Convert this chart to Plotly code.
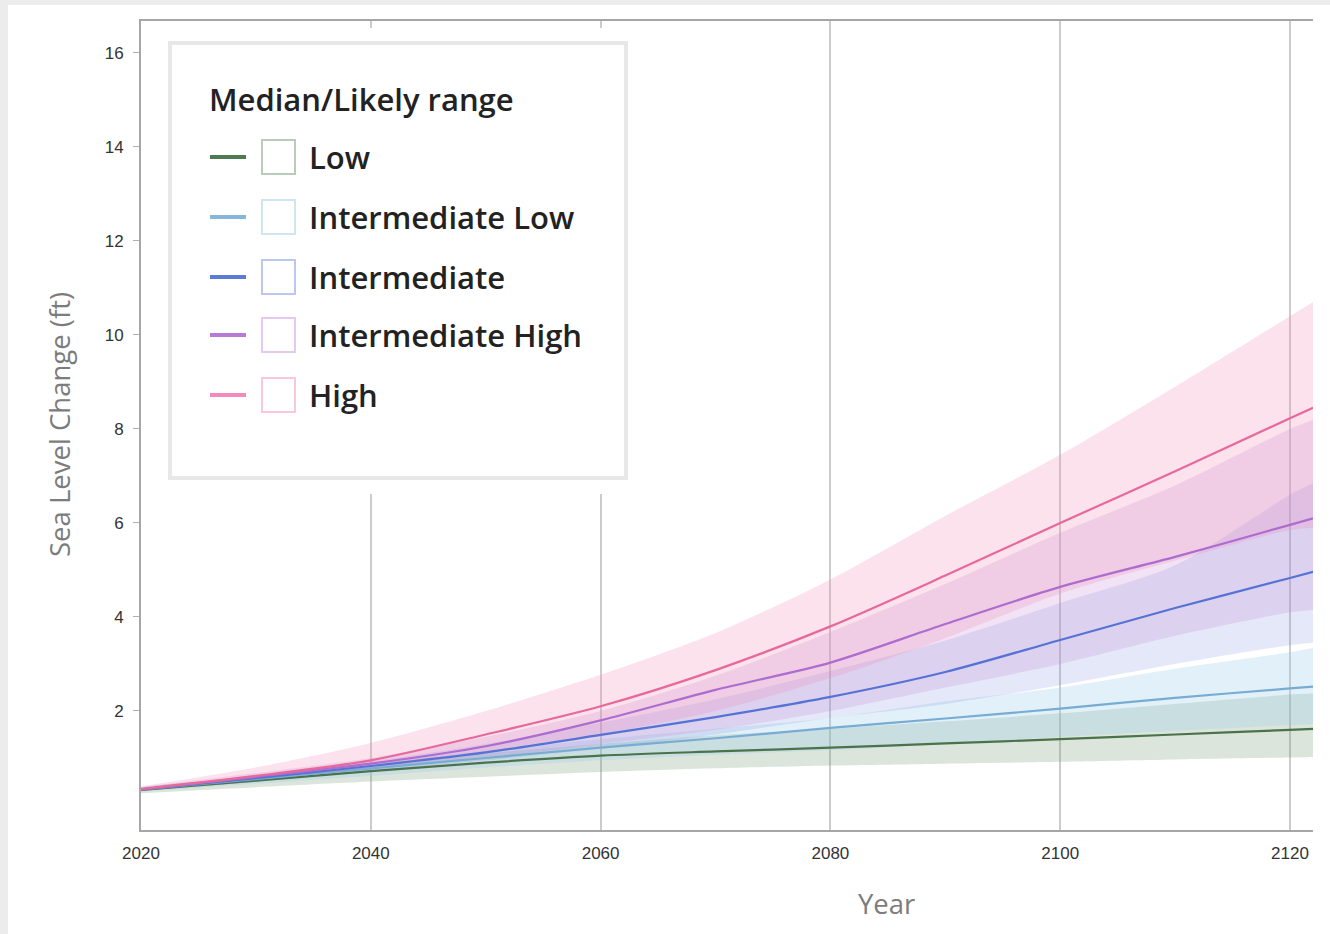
import plotly.graph_objects as go

# ---------------- data ----------------
years = [2020, 2030, 2040, 2050, 2060, 2070, 2080, 2090, 2100, 2110, 2120, 2122]

scenarios = ["Low", "Intermediate Low", "Intermediate", "Intermediate High", "High"]

low_med = [0.32, 0.52, 0.72, 0.90, 1.05, 1.14, 1.22, 1.31, 1.40, 1.50, 1.60, 1.62]
low_lo = [0.25, 0.38, 0.50, 0.60, 0.70, 0.78, 0.84, 0.88, 0.92, 0.97, 1.01, 1.02]
low_hi = [0.38, 0.62, 0.88, 1.10, 1.30, 1.48, 1.62, 1.78, 1.95, 2.15, 2.35, 2.38]

il_med = [0.33, 0.55, 0.78, 1.00, 1.22, 1.42, 1.64, 1.84, 2.05, 2.28, 2.48, 2.52]
il_lo = [0.28, 0.45, 0.62, 0.80, 0.95, 1.07, 1.17, 1.30, 1.45, 1.58, 1.70, 1.72]
il_hi = [0.38, 0.62, 0.90, 1.15, 1.40, 1.62, 1.85, 2.20, 2.50, 2.90, 3.25, 3.34]

int_med = [0.33, 0.57, 0.83, 1.12, 1.49, 1.87, 2.30, 2.83, 3.51, 4.19, 4.83, 4.96]
int_lo = [0.30, 0.50, 0.72, 0.95, 1.20, 1.50, 1.85, 2.15, 2.55, 3.00, 3.40, 3.45]
int_hi = [0.36, 0.63, 0.93, 1.30, 1.75, 2.25, 2.85, 3.50, 4.30, 5.10, 6.60, 6.85]

ih_med = [0.33, 0.60, 0.88, 1.25, 1.80, 2.45, 3.03, 3.85, 4.64, 5.28, 5.96, 6.10]
ih_lo = [0.30, 0.50, 0.75, 1.00, 1.30, 1.60, 2.00, 2.50, 3.00, 3.60, 4.10, 4.15]
ih_hi = [0.38, 0.68, 1.00, 1.45, 2.00, 2.75, 3.68, 4.70, 5.79, 6.80, 8.00, 8.19]

hi_med = [0.34, 0.62, 0.95, 1.50, 2.10, 2.87, 3.80, 4.88, 6.00, 7.10, 8.23, 8.45]
hi_lo = [0.30, 0.50, 0.78, 1.10, 1.50, 2.00, 2.70, 3.55, 4.50, 5.20, 5.85, 5.90]
hi_hi = [0.40, 0.80, 1.32, 2.00, 2.77, 3.66, 4.80, 6.15, 7.45, 8.90, 10.40, 10.70]

medians = [low_med, il_med, int_med, ih_med, hi_med]
lowers = [low_lo, il_lo, int_lo, ih_lo, hi_lo]
uppers = [low_hi, il_hi, int_hi, ih_hi, hi_hi]

y_ticks = [2, 4, 6, 8, 10, 12, 14, 16]
x_ticks = [2020, 2040, 2060, 2080, 2100, 2120]

# ---------------- styles ----------------
line_colors = ["#4a734c", "#78acd2", "#5573d4", "#ad6ccf", "#e8689c"]
legend_line_colors = ["#4f7a51", "#86b7db", "#5b7bd6", "#b57bd6", "#f38ab9"]
box_colors = ["#b9cbb9", "#d0e4f1", "#bcc7ef", "#e6c9f0", "#fac7dd"]
band_fills = [
    "rgba(110,150,110,0.25)",
    "rgba(160,205,235,0.30)",
    "rgba(120,140,220,0.20)",
    "rgba(200,140,215,0.25)",
    "rgba(240,140,185,0.25)",
]

L, R, T, B = 141, 1313, 21, 830


def px(x):
    return (x - L) / (R - L)


def py(y):
    return (B - y) / (B - T)


fig = go.Figure()

for i, name in enumerate(scenarios):
    fig.add_trace(go.Scatter(x=years, y=lowers[i], mode="lines",
                             line=dict(width=0, color=band_fills[i], shape="spline", smoothing=0.8),
                             showlegend=False, hoverinfo="skip"))
    fig.add_trace(go.Scatter(x=years, y=uppers[i], mode="lines",
                             line=dict(width=0, color=band_fills[i], shape="spline", smoothing=0.8),
                             fill="tonexty", fillcolor=band_fills[i],
                             showlegend=False, name=name + " likely range"))

for i, name in enumerate(scenarios):
    fig.add_trace(go.Scatter(x=years, y=medians[i], mode="lines",
                             line=dict(width=2.2, color=line_colors[i], shape="spline", smoothing=0.8),
                             showlegend=False, name=name))

shapes = []
# white card over grey page background
shapes.append(dict(type="rect", xref="paper", yref="paper", layer="below",
                   x0=px(8), x1=px(1345), y0=py(950), y1=py(5),
                   fillcolor="white", line=dict(width=0)))
# white area behind the legend (hides gridlines)
shapes.append(dict(type="rect", xref="paper", yref="paper", layer="above",
                   x0=px(150), x1=px(640), y0=py(494), y1=py(28),
                   fillcolor="white", line=dict(width=0)))
# legend box
shapes.append(dict(type="rect", xref="paper", yref="paper", layer="above",
                   x0=px(170), x1=px(626), y0=py(478), y1=py(43),
                   fillcolor="white", line=dict(color="#e8e8e8", width=4)))

legend_font = dict(family="Open Sans", size=31, color="#222222", weight=600)
annotations = []
annotations.append(dict(text="Median/Likely range", xref="paper", yref="paper",
                        x=px(207), y=py(99), xanchor="left", yanchor="middle",
                        showarrow=False, font=legend_font))
row_y = [157, 217, 277, 335, 395]
for i, name in enumerate(scenarios):
    yy = row_y[i]
    shapes.append(dict(type="line", xref="paper", yref="paper", layer="above",
                       x0=px(210), x1=px(246), y0=py(yy), y1=py(yy),
                       line=dict(color=legend_line_colors[i], width=4)))
    shapes.append(dict(type="rect", xref="paper", yref="paper", layer="above",
                       x0=px(262), x1=px(295), y0=py(yy + 17), y1=py(yy - 17),
                       fillcolor="white", line=dict(color=box_colors[i], width=2)))
    annotations.append(dict(text=name, xref="paper", yref="paper",
                            x=px(307), y=py(yy), xanchor="left", yanchor="middle",
                            showarrow=False, font=legend_font))

annotations.append(dict(text="Sea Level Change (ft)", xref="paper", yref="paper",
                        x=px(59), y=py(425), textangle=-90, showarrow=False,
                        xanchor="center", yanchor="middle",
                        font=dict(family="Open Sans", size=27.5, color="#7c7c7c")))
annotations.append(dict(text="Year", xref="paper", yref="paper",
                        x=px(886), y=py(903), showarrow=False,
                        xanchor="center", yanchor="middle",
                        font=dict(family="Open Sans", size=27.5, color="#7c7c7c")))

fig.update_layout(
    width=1330, height=934,
    margin=dict(l=L, r=1330 - R, t=T, b=934 - B, autoexpand=False),
    paper_bgcolor="#ececec",
    plot_bgcolor="white",
    showlegend=False,
    shapes=shapes,
    annotations=annotations,
    xaxis=dict(range=[2020, 2122], tickvals=x_ticks, ticktext=[str(v) for v in x_ticks],
               showgrid=True, gridcolor="#cccccc", gridwidth=1.5,
               showline=True, linecolor="#a6a6a6", linewidth=2, mirror=True,
               ticks="", ticklabelstandoff=7, zeroline=False,
               tickfont=dict(family="Liberation Sans", size=17, color="#333333")),
    yaxis=dict(range=[-0.532, 16.68], tickvals=y_ticks, ticktext=[str(v) for v in y_ticks],
               showgrid=False, showline=True, linecolor="#a6a6a6", linewidth=2,
               ticks="outside", ticklen=6, tickcolor="#b0b0b0", tickwidth=1,
               ticklabelstandoff=6, zeroline=False,
               tickfont=dict(family="Liberation Sans", size=17, color="#333333")),
)

fig.write_html("out.html",
               config={"displayModeBar": False},
               post_script="document.body.style.margin='0px';"
                           "document.body.style.background='#ececec';")
